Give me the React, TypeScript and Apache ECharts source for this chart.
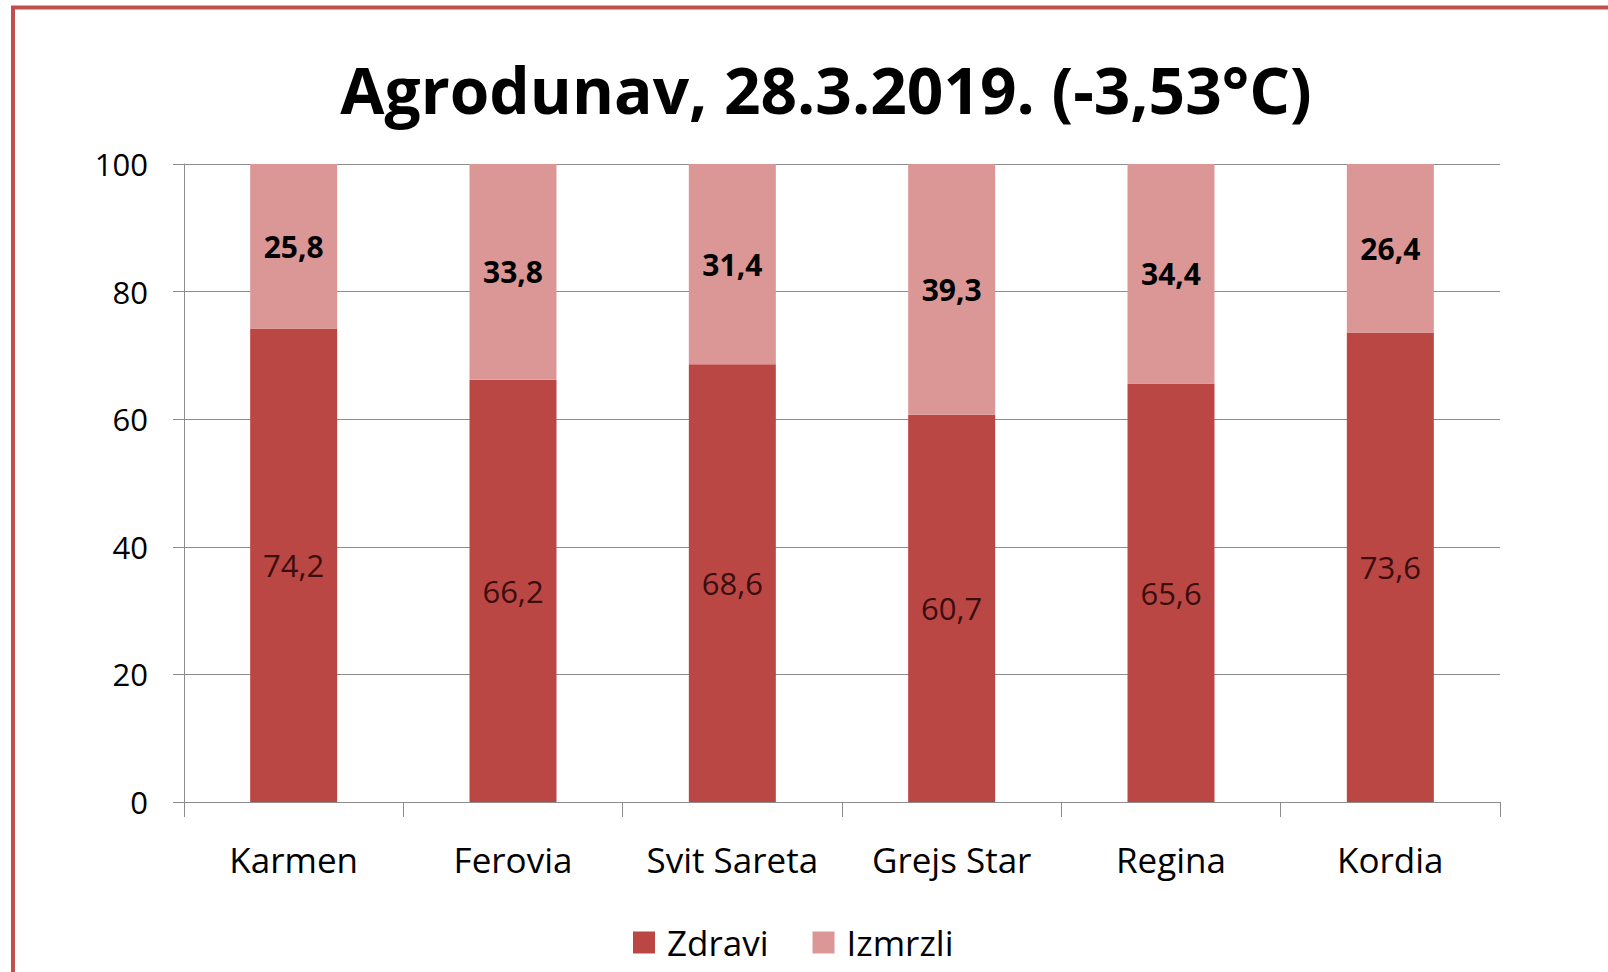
import React, { useEffect, useRef } from "react";
import * as echarts from "echarts";

const categories = ["Karmen", "Ferovia", "Svit Sareta", "Grejs Star", "Regina", "Kordia"];
const zdravi = [74.2, 66.2, 68.6, 60.7, 65.6, 73.6];
const izmrzli = [25.8, 33.8, 31.4, 39.3, 34.4, 26.4];
const titleText = "Agrodunav, 28.3.2019. (-3,53°C)";

const FONT = "'Open Sans', 'Noto Sans', sans-serif";
const fmt = (p: any) => String(p.value).replace(".", ",");

export default function App() {
  const ref = useRef<HTMLDivElement>(null);
  useEffect(() => {
    const chart = echarts.init(ref.current!, null, { renderer: "svg" });
    chart.setOption({
      animation: false,
      backgroundColor: "#ffffff",
      textStyle: { fontFamily: FONT },
      graphic: [
        {
          type: "rect",
          z: 100,
          shape: { x: 13, y: 7.5, width: 1700, height: 1100 },
          style: { fill: "none", stroke: "#c0504d", lineWidth: 4 },
        },
        {
          type: "text",
          x: 826,
          y: 89,
          style: {
            text: titleText,
            fontFamily: FONT,
            fontWeight: "bold",
            fontSize: 64,
            fill: "#000000",
            align: "center",
            verticalAlign: "middle",
          },
        },
      ],
      legend: {
        left: 633,
        top: 925,
        padding: 0,
        itemWidth: 22,
        itemHeight: 22,
        itemGap: 44,
        icon: "rect",
        textStyle: {
          fontFamily: FONT,
          fontSize: 35,
          lineHeight: 35,
          color: "#000",
          padding: [0, 0, 0, 7],
        },
        data: ["Zdravi", "Izmrzli"],
      },
      grid: { left: 184, right: 108, top: 164, bottom: 170, containLabel: false },
      xAxis: {
        type: "category",
        data: categories,
        axisLine: { lineStyle: { color: "#8c8c8c", width: 1 } },
        axisTick: { show: true, interval: 0, length: 15, lineStyle: { color: "#8c8c8c" } },
        axisLabel: {
          interval: 0,
          fontFamily: FONT,
          fontSize: 35,
          color: "#000",
          margin: 40,
          lineHeight: 35,
        },
      },
      yAxis: {
        type: "value",
        min: 0,
        max: 100,
        interval: 20,
        axisLine: { show: true, lineStyle: { color: "#8c8c8c", width: 1 } },
        axisTick: { show: true, length: 11, lineStyle: { color: "#8c8c8c" } },
        splitLine: { lineStyle: { color: "#8c8c8c", width: 1 } },
        axisLabel: { fontFamily: FONT, fontSize: 31, color: "#000", margin: 36 },
      },
      series: [
        {
          name: "Zdravi",
          type: "bar",
          stack: "total",
          barWidth: 87,
          data: zdravi,
          itemStyle: { color: "#bb4744" },
          label: {
            show: true,
            position: "inside",
            formatter: fmt,
            fontFamily: FONT,
            fontSize: 31,
            color: "#3a0e0e",
          },
        },
        {
          name: "Izmrzli",
          type: "bar",
          stack: "total",
          barWidth: 87,
          data: izmrzli,
          itemStyle: { color: "#db9796" },
          label: {
            show: true,
            position: "inside",
            formatter: fmt,
            fontFamily: FONT,
            fontSize: 30,
            fontWeight: "bold",
            color: "#000",
          },
        },
      ],
    });
    return () => chart.dispose();
  }, []);
  return (
    <div
      ref={ref}
      style={{ position: "absolute", left: 0, top: 0, width: 1608, height: 972 }}
    />
  );
}
